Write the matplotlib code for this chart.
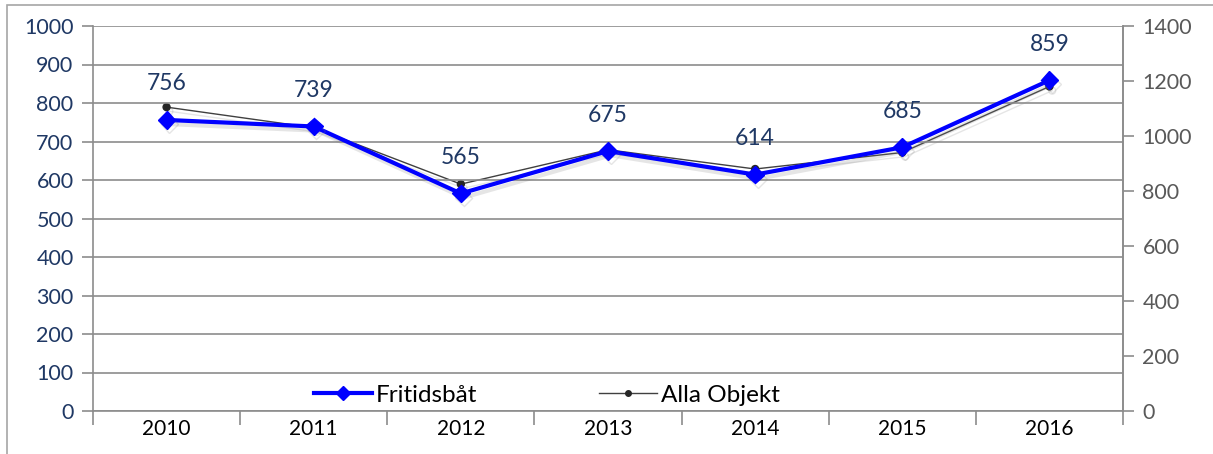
import matplotlib
matplotlib.use("Agg")
import matplotlib.pyplot as plt
import matplotlib.patheffects as pe
from matplotlib.patches import Rectangle

years = ["2010", "2011", "2012", "2013", "2014", "2015", "2016"]
fritidsbat = [756, 739, 565, 675, 614, 685, 859]
alla_objekt = [1105, 1030, 825, 950, 880, 940, 1180]
left_ticks = list(range(0, 1001, 100))
right_ticks = list(range(0, 1401, 200))

plt.rcParams['font.family'] = ['Lato', 'DejaVu Sans']

fig = plt.figure(figsize=(12.13, 4.54), dpi=100)
fig.patches.append(Rectangle((7/1213, -0.1), 1.2, 1 - 5/454 + 0.1, transform=fig.transFigure,
                             fill=False, edgecolor='#a6a6a6', linewidth=1.2))
ax = fig.add_axes([93/1213, 1 - 411/454, (1123 - 93)/1213, (411 - 26)/454])
ax2 = ax.twinx()

x = list(range(len(years)))
grid_c = '#8c8c8c'

ax.set_ylim(0, 1000)
ax.set_xlim(-0.5, len(years) - 0.5)
ax.set_yticks(left_ticks)
ax.set_yticklabels([str(t) for t in left_ticks], color='#1f3864', fontsize=15.5)
ax.yaxis.grid(True, color=grid_c, linewidth=1.2)
ax.set_axisbelow(True)
ax.set_xticks(x)
ax.set_xticklabels(years, fontsize=15, color='black')
ax.tick_params(axis='x', which='major', length=0, pad=6)
ax.set_xticks([i + 0.5 for i in range(-1, len(years))], minor=True)
ax.tick_params(axis='x', which='minor', length=10, color=grid_c, width=1.2)
ax.tick_params(axis='y', length=8, color=grid_c, width=1.2, pad=6)
for s in ['top']:
    ax.spines[s].set_visible(False)
for s in ['left', 'bottom', 'right']:
    ax.spines[s].set_color(grid_c)
    ax.spines[s].set_linewidth(1.2)

ax2.set_ylim(0, 1400)
ax2.set_yticks(right_ticks)
ax2.set_yticklabels([str(t) for t in right_ticks], color='#595959', fontsize=15.5)
ax2.tick_params(axis='y', length=8, color=grid_c, width=1.2, pad=6)
for s in ['top', 'left', 'bottom']:
    ax2.spines[s].set_visible(False)
ax2.spines['right'].set_color(grid_c)
ax2.spines['right'].set_linewidth(1.2)

shadow = [pe.SimpleLineShadow(offset=(2, -3), shadow_color='gray', alpha=0.2), pe.Normal()]

l2, = ax2.plot(x, alla_objekt, color='#404040', linewidth=1, marker='o', markersize=5,
               markerfacecolor='#262626', markeredgecolor='#262626', label='Alla Objekt',
               path_effects=shadow, zorder=3)
ax.set_zorder(ax2.get_zorder() + 1)
ax.patch.set_visible(False)
l1, = ax.plot(x, fritidsbat, color='#0000ff', linewidth=3, marker='D', markersize=9,
              markerfacecolor='#0000ff', markeredgecolor='#0000ff', label='Fritidsbåt',
              path_effects=shadow, zorder=4)

for xi, v in zip(x, fritidsbat):
    ax.annotate(str(v), (xi, v), xytext=(0, 26), textcoords='offset points',
                ha='center', va='center', fontsize=16.5, color='#1f3864')

h1, = ax.plot([], [], color='#0000ff', linewidth=3, marker='D', markersize=7)
h2, = ax.plot([], [], color='#404040', linewidth=1, marker='o', markersize=4,
              markerfacecolor='#262626', markeredgecolor='#262626')
ax.legend([h1, h2], ['Fritidsbåt', 'Alla Objekt'], ncol=2, frameon=False,
          loc='center', bbox_to_anchor=(547/1213, 1 - 395/454), bbox_transform=fig.transFigure,
          fontsize=17.5, handlelength=2.4, handletextpad=0.15, columnspacing=5.0)

fig.savefig('out.png', dpi=100)
